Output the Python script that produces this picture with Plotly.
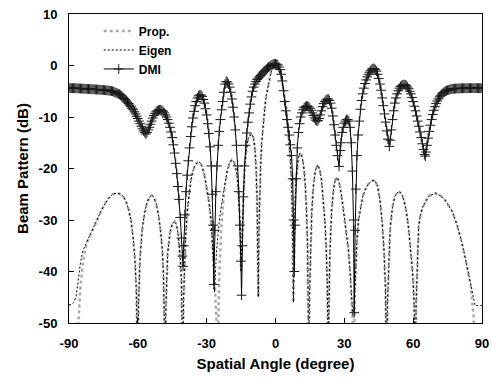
import plotly.graph_objects as go

# ---------------- data ----------------
angle_pe = [-90, -89, -88, -87, -86.2, -85.5, -85, -84, -83, -82, -81, -80, -79, -78, -77, -76, -75, -74,
            -73, -72, -71, -70, -69, -68, -67, -66, -65, -64, -63, -62, -61.3, -60.7, -60.3, -60,
            -59.7, -59.3, -59, -58, -57, -56, -55, -54, -53, -52, -51, -50, -49.3, -48.8, -48.4, -48.1,
            -47.8, -47.4, -47, -46, -45, -44, -43.2, -42.5, -42, -41.5, -41, -40.6, -40.4,
            -40.1, -39.7, -39.2, -38.5, -38, -37, -36, -35, -34, -33.5, -33, -32, -31, -30, -29, -28,
            -27.5, -27, -26.6, -26.2, -25.7, -25.2, -24.8, -24.3, -23.5, -23, -22, -21, -20, -19, -18,
            -17, -16.5, -16, -15.6, -15.3, -15, -14.7, -14.3, -14, -13.5, -13, -12.5, -12, -11, -10.4,
            -10, -9.5, -9, -8.5, -8.1, -7.8, -7.5, -7.2, -7, -6.5, -6, -5.5, -5, -4.5, -4, -3.5, -3,
            -2.5, -2, -1.5, -1, -0.5, 0, 0.5, 1, 1.5, 2, 2.5, 3, 3.5, 4, 4.5, 5, 5.5, 6, 6.5, 7, 7.4,
            7.8, 8.1, 8.5, 9, 9.5, 10, 10.7, 11.3, 12, 12.5, 13, 13.5, 14, 14.3, 14.5, 14.8, 15.2,
            15.8, 16.5, 17.3, 18.3, 19.3, 20, 20.9, 21.5, 22, 22.5, 22.8, 23, 23.3, 23.8, 24.5, 25.3,
            26, 26.7, 27.5, 28.5, 29.6, 30.5, 31.8, 32.5, 33.1, 33.7, 34.3, 34.8, 35.5, 36.2, 36.9,
            38, 39.1, 40.5, 42, 43.4, 44.5, 45.5, 46.5, 47.3, 47.9, 48.3, 48.5, 48.8, 49.3, 50, 51,
            52, 53.6, 55, 56, 57, 58, 59, 59.8, 60.4, 60.8, 61, 61.3, 61.8, 62.4, 63, 64, 65.3, 67,
            69.7, 72, 74, 76, 77, 79, 81, 83, 85, 86.4, 86.7, 87, 88, 90]

eigen_db = [-46.5, -46.4, -46.0, -45.0, -42.5, -40.0, -38.3, -36.0, -35.0, -34.2, -33.2, -32.2, -31.1, -30.1, -29.2, -28.2, -27.4, -26.6,
            -25.9, -25.4, -25.0, -24.85, -24.8, -24.9, -25.1, -25.7, -26.6, -28.0, -30.0, -33.5, -37.5, -43, -50, -60,
            -46, -40, -37, -31.5, -28.5, -26.6, -25.6, -25.2, -25.6, -26.8, -29.0, -32.5, -36, -41, -48, -60,
            -47, -40, -36.5, -32.5, -30.8, -30.3, -30.8, -32.5, -34.5, -37.5, -42, -50, -60,
            -46, -39, -33.5, -28.5, -26, -22.6, -20.5, -19.3, -18.8, -18.7, -18.8, -19.6, -21.2, -23.5, -26.5, -30.5,
            -34, -39, -44, -40, -36, -33.5, -31.5, -29.5, -27, -25.5, -22.5, -20.3, -18.9, -18.3, -18.8,
            -20.5, -22.5, -25.5, -29, -33.5, -40, -35, -29, -25, -20.5, -17.5, -15.5, -14.3, -13.5, -13.3,
            -13.5, -14.3, -16, -19.5, -25, -33, -45, -32, -26, -19.5, -15, -12, -9.4, -7.5, -5.8, -4.5, -3.3,
            -2.3, -1.4, -0.8, -0.35, -0.1, 0, -0.1, -0.35, -0.8, -1.4, -2.3, -3.3, -4.6, -6.0, -7.8, -9.8, -12.2, -15, -18.5, -23, -30,
            -46, -35, -27, -22, -19.3, -17.8, -17.0, -17.3, -18.8, -20.5, -23.5, -28, -36, -50, -60, -45, -36,
            -28.5, -23.5, -20.5, -19.3, -20.2, -22, -26, -30, -34.5, -41, -50, -60, -46, -35, -28, -24,
            -22.3, -21.7, -22.3, -24.5, -28, -31, -35.8, -40, -45.5, -48.5, -47, -41, -34, -30, -28,
            -25.5, -24.1, -23, -22.4, -22.3, -23.5, -26, -30.5, -36, -43, -52, -60, -46, -38, -31.5, -27.5,
            -25.4, -24.4, -24.9, -26.2, -28.3, -31.5, -35.8, -40.5, -46, -53, -60, -46, -38.5, -31.2, -29.5, -27.7, -26.5, -25.3,
            -24.8, -25.3, -26.2, -27.5, -28.3, -30.8, -34, -38, -42.5, -45, -46.4, -46.6, -46.6, -46.6]

prop_db = [-60, -60, -60, -58, -52, -46, -43, -38.5, -35.8, -34.2, -33.2, -32.2, -31.1, -30.1, -29.2, -28.2, -27.4, -26.6,
           -25.9, -25.4, -25.0, -24.85, -24.8, -24.9, -25.1, -25.7, -26.6, -28.0, -30.0, -33.5, -37.5, -43, -50, -60,
           -46, -40, -37, -31.5, -28.5, -26.6, -25.6, -25.2, -25.6, -26.8, -29.0, -32.5, -36, -41, -48, -60,
           -47, -40, -36.5, -32.5, -30.8, -30.3, -30.8, -32.5, -34.5, -37.5, -42, -50, -60,
           -46, -39, -33.5, -28.5, -26, -22.6, -20.5, -19.3, -18.8, -18.7, -18.8, -19.6, -21.2, -23.5, -26.5, -30.5,
           -34, -38, -41, -45, -50, -60, -47, -38, -31, -27.5, -23.2, -20.5, -18.9, -18.3, -18.8,
           -20.5, -22.5, -25.5, -29, -33.5, -40, -35, -29, -25, -20.5, -17.5, -15.5, -14.3, -13.5, -13.3,
           -13.5, -14.3, -16, -19.5, -25, -33, -45, -32, -26, -19.5, -15, -12, -9.4, -7.5, -5.8, -4.5, -3.3,
           -2.3, -1.4, -0.8, -0.35, -0.1, 0, -0.1, -0.35, -0.8, -1.4, -2.3, -3.3, -4.6, -6.0, -7.8, -9.8, -12.2, -15, -18.5, -23, -30,
           -46, -35, -27, -22, -19.3, -17.8, -17.0, -17.3, -18.8, -20.5, -23.5, -28, -36, -50, -60, -45, -36,
           -28.5, -23.5, -20.5, -19.3, -20.2, -22, -26, -30, -34.5, -41, -50, -60, -46, -35, -28, -24,
           -22.3, -21.7, -22.3, -24.5, -28, -31, -35.8, -40, -45.5, -50, -52, -41, -34, -30, -28,
           -25.5, -24.1, -23, -22.4, -22.3, -23.5, -26, -30.5, -36, -43, -52, -60, -46, -38, -31.5, -27.5,
           -25.4, -24.4, -24.9, -26.2, -28.3, -31.5, -35.8, -40.5, -46, -53, -60, -46, -38.5, -31.2, -29.5, -27.7, -26.5, -25.3,
           -24.8, -25.3, -26.2, -27.5, -28.3, -30.8, -34, -38, -42.5, -49, -54, -60, -60, -60]

# DMI beam pattern as (angle in degrees, level in dB) pairs
dmi_points = [
    (-90, -4.4), (-89.5, -4.4), (-89, -4.4), (-88.5, -4.4), (-88, -4.4), (-87.5, -4.41), (-87, -4.42),
    (-86.5, -4.43), (-86, -4.45), (-85.5, -4.46), (-85, -4.48), (-84.5, -4.49), (-84, -4.5), (-83.5, -4.51),
    (-83, -4.52), (-82.5, -4.53), (-82, -4.55), (-81.5, -4.56), (-81, -4.58), (-80.5, -4.59), (-80, -4.6),
    (-79.5, -4.62), (-79, -4.63), (-78.5, -4.65), (-78, -4.66), (-77.5, -4.68), (-77, -4.7), (-76.5, -4.71),
    (-76, -4.72), (-75.5, -4.74), (-75, -4.75), (-74.5, -4.78), (-74, -4.8), (-73.5, -4.83), (-73, -4.85),
    (-72.5, -4.88), (-72, -4.9), (-71.5, -4.95), (-71, -5.0), (-70.5, -5.1), (-70, -5.2), (-69.5, -5.3),
    (-69, -5.4), (-68.5, -5.5), (-68, -5.6), (-67.5, -5.75), (-67, -5.9), (-66.5, -6.15), (-66, -6.4),
    (-65.5, -6.65), (-65, -6.9), (-64.5, -7.15), (-64, -7.4), (-63.5, -7.7), (-63, -8.0), (-62.5, -8.3),
    (-62, -8.6), (-61.5, -9.0), (-61, -9.4), (-60.5, -9.85), (-60, -10.3), (-59.5, -10.8), (-59, -11.3),
    (-58.5, -11.8), (-58, -12.3), (-57.5, -12.7), (-57, -13.0), (-56.5, -13.3), (-56, -13.0), (-55.5, -12.5),
    (-55, -12.0), (-54.5, -11.4), (-54, -10.8), (-53.5, -10.2), (-53, -9.7), (-52.5, -9.3), (-52, -9.0),
    (-51.5, -8.8), (-51, -8.7), (-50.5, -8.6), (-50, -8.6), (-49.5, -8.7), (-49, -8.9), (-48.5, -9.2),
    (-48, -9.6), (-47.5, -10.0), (-47, -10.5), (-46.5, -11.2), (-46, -12.0), (-45.5, -12.9), (-45, -14.0),
    (-44.5, -15.4), (-44, -17.0), (-43.5, -19.0), (-43, -21.0), (-42.5, -23.5), (-42, -26.0), (-41.5, -29.5),
    (-41, -33.5), (-40.6, -37), (-40.3, -39), (-40, -35), (-39.5, -29), (-39, -24.5), (-38.5, -21.3),
    (-38, -18.5), (-37.5, -16), (-37, -13.8), (-36.5, -11.9), (-36, -10.2), (-35.5, -8.9), (-35, -7.8),
    (-34.5, -7.0), (-34, -6.3), (-33.5, -5.9), (-33, -5.7), (-32.5, -5.75), (-32, -6.0), (-31.5, -6.6),
    (-31, -7.3), (-30.5, -8.4), (-30, -9.6), (-29.5, -11.3), (-29, -13.2), (-28.5, -15.8), (-28, -19.5),
    (-27.5, -25), (-27.2, -31), (-26.9, -42.5), (-26.5, -32), (-26, -24.5), (-25.5, -19.5), (-25, -15.5),
    (-24.5, -12.8), (-24, -10.5), (-23.5, -8.6), (-23, -7.0), (-22.5, -5.2), (-22, -3.6), (-21.5, -3.1),
    (-21, -3.2), (-20.5, -3.6), (-20, -4.2), (-19.5, -5.2), (-19, -6.5), (-18.5, -8.1), (-18, -10),
    (-17.5, -12.5), (-17, -15.5), (-16.5, -19.5), (-16, -24.5), (-15.5, -31), (-15.1, -38), (-14.8, -44.6),
    (-14.5, -35), (-14, -25.5), (-13.5, -19.5), (-13, -15.5), (-12.5, -13.1), (-12, -11.0), (-11.5, -9.2),
    (-11, -7.5), (-10.5, -6.1), (-10, -5.0), (-9.5, -4.2), (-9, -3.6), (-8.5, -3.1), (-8, -2.7),
    (-7.5, -2.45), (-7, -2.2), (-6.5, -1.95), (-6, -1.7), (-5.5, -1.45), (-5, -1.2), (-4.5, -0.95),
    (-4, -0.7), (-3.5, -0.5), (-3, -0.3), (-2.5, -0.15), (-2, 0.0), (-1.5, 0.15), (-1, 0.25), (-0.5, 0.3),
    (0, 0.3), (0.5, 0.25), (1, 0.1), (1.5, -0.3), (2, -0.8), (2.5, -1.7), (3, -3.0), (3.5, -4.9),
    (4, -7.0), (4.5, -8.8), (5, -10.5), (5.5, -12.0), (6, -13.5), (6.5, -15.4), (7, -17.5), (7.5, -22),
    (7.9, -30), (8.2, -40), (8.5, -31), (9, -22), (9.5, -16), (10, -13), (10.5, -11.3), (11, -10),
    (11.5, -9.2), (12, -8.6), (12.5, -8.2), (13, -8.0), (13.5, -7.9), (14, -7.9), (14.5, -8.05), (15, -8.3),
    (15.5, -8.7), (16, -9.2), (16.5, -9.7), (17, -10.2), (17.5, -10.6), (18, -10.8), (18.5, -10.7),
    (19, -10.3), (19.5, -9.6), (20, -8.8), (20.5, -8.0), (21, -7.4), (21.5, -7.0), (22, -6.7), (22.5, -6.55),
    (23, -6.5), (23.5, -6.8), (24, -7.3), (24.5, -8.3), (25, -9.8), (25.5, -11.5), (26, -13.5), (26.5, -15.5),
    (27, -17.5), (27.7, -19.6), (28.2, -16.5), (28.5, -15), (29, -13), (29.5, -12), (30, -11.2), (30.5, -10.8),
    (31, -10.5), (31.5, -10.5), (32, -10.8), (32.5, -12), (33, -15), (33.5, -20.5), (34, -30), (34.3, -48),
    (34.7, -32), (35, -24), (35.5, -17.5), (36, -13.5), (36.5, -10.8), (37, -8.5), (37.5, -6.8), (38, -5.5),
    (38.5, -4.4), (39, -3.5), (39.5, -2.8), (40, -2.2), (40.5, -1.7), (41, -1.3), (41.5, -1.0), (42, -0.7),
    (42.5, -0.6), (43, -0.6), (43.5, -0.8), (44, -1.1), (44.5, -1.7), (45, -2.5), (45.5, -3.6), (46, -4.8),
    (46.5, -6.3), (47, -7.8), (47.5, -9.4), (48, -11), (48.5, -12.7), (49, -14.3), (49.6, -15.7), (50, -14.5),
    (50.5, -12.5), (51, -10.5), (51.5, -8.8), (52, -7.3), (52.5, -6.3), (53, -5.5), (53.5, -4.9), (54, -4.4),
    (54.5, -4.1), (55, -3.9), (55.5, -3.75), (56, -3.7), (56.5, -3.75), (57, -3.9), (57.5, -4.2), (58, -4.5),
    (58.5, -5.0), (59, -5.5), (59.5, -6.2), (60, -7.0), (60.5, -7.9), (61, -8.8), (61.5, -9.8), (62, -10.8),
    (62.5, -11.8), (63, -12.9), (63.5, -14.0), (64, -15.2), (64.5, -16.3), (65, -17.3), (65.3, -17.6),
    (65.6, -16.8), (66, -15.5), (66.5, -14.1), (67, -12.8), (67.5, -11.6), (68, -10.5), (68.5, -9.5),
    (69, -8.7), (69.5, -8.0), (70, -7.4), (70.5, -6.9), (71, -6.5), (71.5, -6.1), (72, -5.8), (72.5, -5.5),
    (73, -5.3), (73.5, -5.15), (74, -5.0), (74.5, -4.9), (75, -4.8), (75.5, -4.72), (76, -4.65), (76.5, -4.6),
    (77, -4.55), (77.5, -4.52), (78, -4.5), (78.5, -4.48), (79, -4.47), (79.5, -4.46), (80, -4.45),
    (80.5, -4.44), (81, -4.43), (81.5, -4.42), (82, -4.42), (82.5, -4.41), (83, -4.41), (83.5, -4.4),
    (84, -4.4), (84.5, -4.4), (85, -4.4), (85.5, -4.4), (86, -4.4), (86.5, -4.4), (87, -4.4), (87.5, -4.4),
    (88, -4.4), (88.5, -4.4), (89, -4.4), (89.5, -4.4), (90, -4.4),
]
angle_dmi = [p[0] for p in dmi_points]
dmi_db = [p[1] for p in dmi_points]

x_ticks = [-90, -60, -30, 0, 30, 60, 90]
y_ticks = [10, 0, -10, -20, -30, -40, -50]
series_names = ["Prop.", "Eigen", "DMI"]

# ---------------- figure ----------------
FONT = "Liberation Sans, Arial, sans-serif"
fig = go.Figure()
fig.add_trace(go.Scatter(x=angle_pe, y=prop_db, name=series_names[0], mode="lines",
                         line=dict(color="#a8a8a8", width=2.5, dash="dot")))
fig.add_trace(go.Scatter(x=angle_pe, y=eigen_db, name=series_names[1], mode="lines",
                         line=dict(color="#000000", width=1, dash="2px,2px")))
fig.add_trace(go.Scatter(x=angle_dmi, y=dmi_db, name=series_names[2], mode="lines+markers",
                         line=dict(color="#000000", width=1),
                         marker=dict(symbol="cross-thin", size=7, color="#000000",
                                     line=dict(color="#1a1a1a", width=1))))

axis_common = dict(showline=True, linecolor="#000000", linewidth=1, mirror=True,
                   ticks="inside", ticklen=5, tickcolor="#000000", showgrid=False, zeroline=False,
                   tickfont=dict(family=FONT, size=13, color="#000000", weight="bold"))

fig.update_xaxes(range=[-90, 90], tickvals=x_ticks, ticktext=[str(v) for v in x_ticks],
                 ticklabelstandoff=8,
                 title=dict(text="Spatial Angle (degree)", standoff=8,
                            font=dict(family=FONT, size=15, color="#000000", weight="bold")),
                 **axis_common)
fig.update_yaxes(range=[-50, 10], tickvals=y_ticks, ticktext=[str(v) for v in y_ticks],
                 ticklabelstandoff=8,
                 title=dict(text="Beam Pattern (dB)", standoff=6,
                            font=dict(family=FONT, size=15, color="#000000", weight="bold")),
                 **axis_common)

fig.update_layout(
    width=492, height=387,
    margin=dict(l=69, r=10, t=14, b=64, autoexpand=False),
    paper_bgcolor="#ffffff", plot_bgcolor="#ffffff",
    showlegend=True,
    legend=dict(x=0.072, y=0.992, xanchor="left", yanchor="top", bgcolor="rgba(0,0,0,0)",
                borderwidth=0, font=dict(family=FONT, size=12, color="#000000", weight="bold"),
                tracegroupgap=0),
)

fig.write_html("out.html")
